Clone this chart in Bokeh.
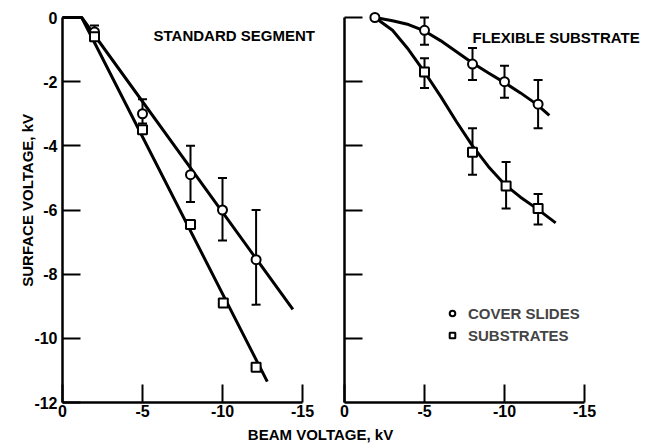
import math
from bokeh.plotting import figure
from bokeh.models import (Range1d, FixedTicker, ColumnDataSource, Whisker, TeeHead,
                          Label, Legend, LegendItem, CustomJSTickFormatter, LinearAxis)
from bokeh.embed import file_html
from bokeh.resources import INLINE

FONT = "Liberation Sans"

# ---------------- data: STANDARD SEGMENT (left panel) ----------------
std_cover_beam = [-2, -5, -8, -10, -12.1]
std_cover_surf = [-0.45, -3.0, -4.9, -6.0, -7.55]
std_cover_err_beam = [-2, -5, -8, -10, -12.1]
std_cover_err_hi = [-0.25, -2.55, -4.0, -5.0, -6.0]
std_cover_err_lo = [-0.65, -3.3, -5.75, -6.95, -8.95]

std_sub_beam = [-2, -5, -8, -10.05, -12.1]
std_sub_surf = [-0.6, -3.5, -6.45, -8.9, -10.9]

std_cover_fit_beam = [0, -1.2, -14.4]
std_cover_fit_surf = [0, 0, -9.1]
std_sub_fit_beam = [0, -1.2, -12.8]
std_sub_fit_surf = [0, 0, -11.35]

# ---------------- data: FLEXIBLE SUBSTRATE (right panel) ----------------
flex_cover_beam = [-1.9, -5, -8, -10, -12.1]
flex_cover_surf = [0, -0.4, -1.45, -2.0, -2.7]
flex_cover_err_beam = [-5, -8, -10, -12.1]
flex_cover_err_hi = [0, -0.95, -1.5, -1.95]
flex_cover_err_lo = [-0.85, -1.95, -2.5, -3.45]

flex_sub_beam = [-5, -8, -10.1, -12.1]
flex_sub_surf = [-1.7, -4.2, -5.25, -5.95]
flex_sub_err_hi = [-1.27, -3.45, -4.5, -5.5]
flex_sub_err_lo = [-2.2, -4.9, -5.95, -6.45]

flex_cover_fit_beam = [-1.9, -3.0, -4.0, -5.0, -6.0, -7.0, -8.0, -9.0, -10.0, -11.0, -12.0, -12.8]
flex_cover_fit_surf = [0, -0.1, -0.22, -0.42, -0.72, -1.07, -1.42, -1.73, -2.03, -2.35, -2.7, -3.05]
flex_sub_fit_beam = [-1.9, -3.0, -4.0, -5.0, -6.0, -7.0, -8.0, -9.0, -10.0, -11.0, -12.0, -13.2]
flex_sub_fit_surf = [0, -0.4, -1.0, -1.7, -2.45, -3.25, -4.0, -4.65, -5.2, -5.6, -5.95, -6.4]

# ---------------- axes / texts ----------------
x_ticks = [0, -5, -10, -15]
x_tick_labels = ["0", "-5", "-10", "-15"]
y_ticks = [0, -2, -4, -6, -8, -10, -12]
y_tick_labels = ["0", "-2", "-4", "-6", "-8", "-10", "-12"]
x_axis_bounds = (0, -15)
y_axis_bounds = (-12, 0)

panel_titles = ["STANDARD SEGMENT", "FLEXIBLE SUBSTRATE"]
legend_labels = ["COVER SLIDES", "SUBSTRATES"]
x_label = "BEAM VOLTAGE, kV"
y_label = "SURFACE VOLTAGE, kV"

# ---------------- layout (pixels) ----------------
W, H = 645, 445
PX_X = 16.0                 # px per kV on beam axes
PX_Y = 385.0 / 12.0         # px per kV on surface axis
LEFT_ORIGIN = 62            # canvas px of beam 0 in left panel
RIGHT_ORIGIN = 344          # canvas px of beam 0 in right panel
Y_ZERO = 17                 # canvas px (from top) of surface 0

x_main = Range1d(LEFT_ORIGIN / PX_X, LEFT_ORIGIN / PX_X - W / PX_X)
x_right = Range1d(RIGHT_ORIGIN / PX_X, RIGHT_ORIGIN / PX_X - W / PX_X)
y_main = Range1d(Y_ZERO / PX_Y - H / PX_Y, Y_ZERO / PX_Y)

p = figure(width=W, height=H, x_range=x_main, y_range=y_main,
           output_backend="svg", toolbar_location=None,
           x_axis_location=None, y_axis_location=None, min_border=0)
p.extra_x_ranges = {"R": x_right}
p.grid.visible = False
p.outline_line_color = None


def style(ax):
    ax.axis_line_width = 2.5
    ax.axis_line_color = "black"
    ax.major_tick_in = 18
    ax.major_tick_out = 0
    ax.major_tick_line_width = 2
    ax.minor_tick_line_color = None
    ax.major_label_text_font = FONT
    ax.major_label_text_font_size = "16px"
    ax.major_label_text_font_style = "bold"
    ax.major_label_text_color = "black"


# x axes (left & right panels), drawn at surface = -12
for rname in ["default", "R"]:
    ax = LinearAxis(x_range_name=rname, fixed_location=-12, bounds=x_axis_bounds,
                    ticker=FixedTicker(ticks=x_ticks),
                    major_label_overrides=dict(zip(x_ticks, x_tick_labels)),
                    major_label_standoff=2)
    style(ax)
    p.add_layout(ax, "below")

# y axis, left panel (labelled)
ayl = LinearAxis(fixed_location=0, bounds=y_axis_bounds, ticker=FixedTicker(ticks=y_ticks),
                 major_label_overrides=dict(zip(y_ticks, y_tick_labels)),
                 major_label_standoff=5)
style(ayl)
p.add_layout(ayl, "left")

# y axis, right panel (ticks only)
ayr = LinearAxis(x_range_name="R", fixed_location=0, bounds=y_axis_bounds,
                 ticker=FixedTicker(ticks=y_ticks[:-1]),
                 formatter=CustomJSTickFormatter(code="return ''"))
style(ayr)
p.add_layout(ayr, "left")


def add_errors(xs, hi, lo, rname="default"):
    src = ColumnDataSource(dict(x=xs, hi=hi, lo=lo))
    w = Whisker(base="x", upper="hi", lower="lo", source=src, dimension="height",
                x_range_name=rname, line_width=2, line_color="black",
                upper_head=TeeHead(size=9, line_width=2, line_color="black"),
                lower_head=TeeHead(size=9, line_width=2, line_color="black"))
    p.add_layout(w)


# ---------------- left panel glyphs ----------------
add_errors(std_cover_err_beam, std_cover_err_hi, std_cover_err_lo)
p.line(std_cover_fit_beam, std_cover_fit_surf, line_width=3, color="black")
p.line(std_sub_fit_beam, std_sub_fit_surf, line_width=3, color="black")
p.scatter(std_cover_beam, std_cover_surf, marker="circle", size=9, fill_color="white",
          line_color="black", line_width=2)
p.scatter(std_sub_beam, std_sub_surf, marker="square", size=9, fill_color="white",
          line_color="black", line_width=2)

# ---------------- right panel glyphs ----------------
add_errors(flex_cover_err_beam, flex_cover_err_hi, flex_cover_err_lo, "R")
add_errors(flex_sub_beam, flex_sub_err_hi, flex_sub_err_lo, "R")
p.line(flex_cover_fit_beam, flex_cover_fit_surf, line_width=3, color="black", x_range_name="R")
p.line(flex_sub_fit_beam, flex_sub_fit_surf, line_width=3, color="black", x_range_name="R")
rc = p.scatter(flex_cover_beam, flex_cover_surf, marker="circle", size=9, fill_color="white",
               line_color="black", line_width=2, x_range_name="R")
rs = p.scatter(flex_sub_beam, flex_sub_surf, marker="square", size=9, fill_color="white",
               line_color="black", line_width=2, x_range_name="R")

# ---------------- texts ----------------
txt = dict(text_font=FONT, text_font_size="15px", text_font_style="bold", text_color="black")
p.add_layout(Label(x=-5.69, y=-0.56, text=panel_titles[0], text_baseline="alphabetic", **txt))
p.add_layout(Label(x=-8.0, y=-0.62, text=panel_titles[1], text_baseline="alphabetic",
                   x_range_name="R", **txt))
p.add_layout(Label(x=-16.125, y=-13.0, text=x_label, text_align="center",
                   text_baseline="alphabetic", **txt))
p.add_layout(Label(x=2.19, y=-5.7, text=y_label, angle=math.pi / 2,
                   text_align="center", text_baseline="alphabetic", **txt))

legend = Legend(items=[LegendItem(label=legend_labels[0], renderers=[rc]),
                       LegendItem(label=legend_labels[1], renderers=[rs])],
                location=(445, 100), orientation="vertical",
                border_line_color=None, background_fill_alpha=0, padding=0, margin=0,
                spacing=2, glyph_width=14, glyph_height=20, label_height=20, label_standoff=9,
                label_text_font=FONT, label_text_font_size="15px", label_text_font_style="bold")
p.add_layout(legend)

open("out.html", "w").write(file_html(p, INLINE))
